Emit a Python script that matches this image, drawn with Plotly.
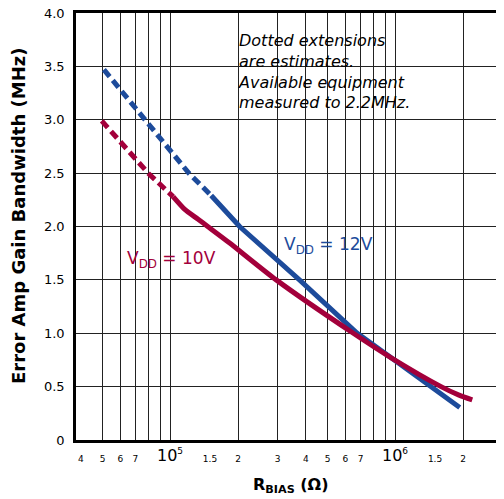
import plotly.graph_objects as go

# ---- data ----
blue_est_x = [50700, 77100, 120800, 151900]
blue_est_y = [3.47, 3.00, 2.50, 2.29]
blue_meas_x = [151900, 203200, 374700, 677000, 958000, 1430000, 1931000]
blue_meas_y = [2.29, 2.00, 1.50, 1.00, 0.77, 0.50, 0.305]

red_est_x = [49600, 79700, 102900]
red_est_y = [2.99, 2.50, 2.28]
red_meas_x = [102900, 115900, 132400, 146600, 183500, 295400, 650100, 958000, 1595000, 1917000, 2195000]
red_meas_y = [2.28, 2.16, 2.07, 2.00, 1.845, 1.50, 1.00, 0.77, 0.50, 0.42, 0.375]

x_tick_vals = [4e4, 5e4, 6e4, 7e4, 1.5e5, 2e5, 3e5, 4e5, 5e5, 6e5, 7e5, 1.5e6, 2e6, 3e6]
x_tick_text = ["4", "5", "6", "7", "1.5", "2", "3", "4", "5", "6", "7", "1.5", "2", "3"]
x_grid_vals = [5e4, 6e4, 7e4, 8e4, 9e4, 1e5, 2e5, 3e5, 4e5, 5e5, 6e5, 7e5, 8e5, 9e5, 1e6, 2e6]
decade_vals = [5, 6]
y_tick_vals = [0, 0.5, 1.0, 1.5, 2.0, 2.5, 3.0, 3.5, 4.0]
y_tick_text = ["0", "0.5", "1.0", "1.5", "2.0", "2.5", "3.0", "3.5", "4.0"]

BLUE = "#1d4b9b"
RED = "#a3003b"
FONT = "DejaVu Sans"

fig = go.Figure()
fig.add_trace(go.Scatter(x=blue_est_x, y=blue_est_y, mode="lines",
                         line=dict(color=BLUE, width=5, dash="9px,5px"), showlegend=False))
fig.add_trace(go.Scatter(x=blue_meas_x, y=blue_meas_y, mode="lines",
                         line=dict(color=BLUE, width=5), showlegend=False))
fig.add_trace(go.Scatter(x=red_est_x, y=red_est_y, mode="lines",
                         line=dict(color=RED, width=5, dash="9px,5px"), showlegend=False))
fig.add_trace(go.Scatter(x=red_meas_x, y=red_meas_y, mode="lines",
                         line=dict(color=RED, width=5, shape="spline", smoothing=0.6), showlegend=False))

GRID = "#222222"
fig.update_xaxes(type="log", range=[4.581, 6.478], automargin=False,
                 tickmode="array", tickvals=x_tick_vals, ticktext=x_tick_text,
                 tickfont=dict(family=FONT, size=9, color="black"),
                 ticks="", ticklabelstandoff=8, ticklabeloverflow="allow",
                 showgrid=False, zeroline=False,
                 showline=True, linecolor="black", linewidth=2.5, mirror=True,
                 minor=dict(tickmode="array", tickvals=x_grid_vals, showgrid=True,
                            gridcolor=GRID, gridwidth=1, ticks=""))
fig.update_yaxes(range=[0, 4.0], automargin=False,
                 tickmode="array", tickvals=y_tick_vals, ticktext=y_tick_text,
                 tickfont=dict(family=FONT, size=13, color="black"),
                 ticks="", ticklabelstandoff=6, ticklabeloverflow="allow",
                 showgrid=True, gridcolor=GRID, gridwidth=1, zeroline=False,
                 showline=True, linecolor="black", linewidth=2.5, mirror=True)

# page has an 8px body margin; layout positions below are given in page pixels
OFF = 8
PL, PT, PW, PH = 76, 13, 427, 427

def px_x(p):
    return (p - PL) / PW

def px_y(p):
    return (PT + PH - p) / PH

shapes = []
for (x0, x1, y0, y1) in [(233, 415, 31.7, 125), (118, 220, 243, 275), (281, 373, 230, 260)]:
    shapes.append(dict(type="rect", xref="paper", yref="paper",
                       x0=px_x(x0), x1=px_x(x1), y0=px_y(y1), y1=px_y(y0),
                       fillcolor="white", line=dict(width=0), layer="between"))

annotations = [
    dict(text="<i>Dotted extensions<br>are estimates.<br>Available equipment<br>measured to 2.2MHz.</i>",
         xref="paper", yref="paper", x=px_x(236), y=px_y(71), xanchor="left", yanchor="middle",
         align="left", showarrow=False, font=dict(family=FONT, size=16, color="black")),
    dict(text="V<sub>DD</sub> = 10V", xref="paper", yref="paper", x=px_x(125), y=px_y(259),
         xanchor="left", yanchor="middle", showarrow=False, font=dict(family=FONT, size=17, color=RED)),
    dict(text="V<sub>DD</sub> = 12V", xref="paper", yref="paper", x=px_x(282), y=px_y(246),
         xanchor="left", yanchor="middle", showarrow=False, font=dict(family=FONT, size=17, color=BLUE)),
    dict(text="<b>Error Amp Gain Bandwidth (MHz)</b>", xref="paper", yref="paper",
         x=px_x(18), y=px_y(216), xanchor="center", yanchor="middle", textangle=-90,
         showarrow=False, font=dict(family=FONT, size=18, color="black")),
    dict(text="<b>R<sub>BIAS</sub> (Ω)</b>", xref="paper", yref="paper",
         x=px_x(291), y=px_y(486), xanchor="center", yanchor="middle",
         showarrow=False, font=dict(family=FONT, size=16, color="black")),
]
for d in decade_vals:
    annotations.append(dict(text="10<sup><span style='font-size:9px'>%d</span></sup>" % d,
                            xref="x", yref="paper", x=d, y=px_y(455), xanchor="center", yanchor="middle",
                            showarrow=False, font=dict(family=FONT, size=16, color="black")))

fig.update_layout(width=504 - OFF, height=499 - OFF,
                  margin=dict(l=PL - OFF, r=504 - OFF - (PL - OFF) - PW, t=PT - OFF,
                              b=499 - OFF - (PT - OFF) - PH),
                  paper_bgcolor="white", plot_bgcolor="white",
                  shapes=shapes, annotations=annotations)

fig.write_html("out.html")
